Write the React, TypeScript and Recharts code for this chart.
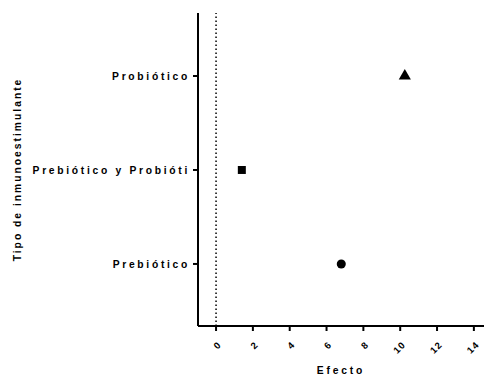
import React from 'react';
import { ScatterChart, Scatter, XAxis, YAxis, ZAxis, ReferenceLine, Label } from 'recharts';

const categories = ['Prebiótico', 'Prebiótico y Probióti', 'Probiótico'];
const efecto = [6.8, 1.4, 10.25];
const shapes = ['circle', 'square', 'triangle'];
const xTicks = [0, 2, 4, 6, 8, 10, 12, 14];
const yTicks = [1, 2, 3];

const FONT = '"Liberation Sans", Arial, sans-serif';

const YTick = (props: any) => {
  const { x, y, payload } = props;
  return (
    <text x={x - 1} y={y} dy={3.8} textAnchor="end" fontFamily={FONT} fontWeight="bold" fontSize={10.3} letterSpacing={2.7} fill="#000">
      {categories[payload.value - 1]}
    </text>
  );
};

const XTick = (props: any) => {
  const { x, y, payload } = props;
  return (
    <g transform={`translate(${x + 4},${y + 10})`}>
      <text x={0} y={0} dy={3} textAnchor="end" transform="rotate(-45)" fontFamily={FONT} fontWeight="bold" fontSize={9.5} letterSpacing={1.2} fill="#000">
        {payload.value}
      </text>
    </g>
  );
};

export default function App() {
  return (
    <div style={{ position: 'absolute', left: 0, top: 0, background: '#fff' }}>
      <ScatterChart width={484} height={379} margin={{ top: 13, right: 0, bottom: 0, left: 0 }}>
        <XAxis
          type="number"
          dataKey="x"
          domain={[-0.98, 14.55]}
          ticks={xTicks}
          allowDataOverflow
          height={53}
          axisLine={{ stroke: '#000', strokeWidth: 2 }}
          tickLine={{ stroke: '#000', strokeWidth: 2 }}
          tickSize={5}
          tick={<XTick />}
          interval={0}
        >
          <Label value="Efecto" position="insideBottom" offset={5} style={{ fontFamily: FONT, fontWeight: 'bold', fontSize: 10.3, letterSpacing: 2.8, fill: '#000' }} />
        </XAxis>
        <YAxis
          type="number"
          dataKey="y"
          domain={[0.34, 3.67]}
          ticks={yTicks}
          allowDataOverflow
          width={198}
          axisLine={{ stroke: '#000', strokeWidth: 2 }}
          tickLine={{ stroke: '#000', strokeWidth: 2 }}
          tickSize={5}
          tick={<YTick />}
          interval={0}
        >
          <Label value="Tipo de inmunoestimulante" angle={-90} position="insideLeft" offset={17} style={{ textAnchor: 'middle', fontFamily: FONT, fontWeight: 'bold', fontSize: 10.3, letterSpacing: 2.0, fill: '#000' }} />
        </YAxis>
        <ZAxis range={[85, 85]} />
        <ReferenceLine x={0} stroke="#000" strokeWidth={1.5} strokeDasharray="1.5 2.5" />
        {categories.map((c, i) => (
          <Scatter
            key={c}
            name={c}
            data={[{ x: efecto[i], y: i + 1 }]}
            shape={shapes[i] as any}
            fill="#000"
            isAnimationActive={false}
          />
        ))}
      </ScatterChart>
    </div>
  );
}
